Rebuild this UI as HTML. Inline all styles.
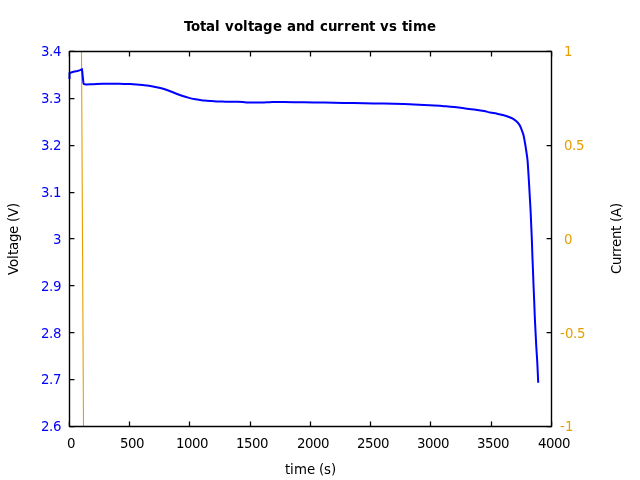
<!DOCTYPE html>
<html lang="en">
<head>
<meta charset="utf-8">
<title>Total voltage and current vs time</title>
<style>
html,body{margin:0;padding:0;background:#fff;}
body{width:640px;height:480px;overflow:hidden;}
svg{display:block;}
text{font-family:"DejaVu Sans","Liberation Sans",sans-serif;font-size:13.33px;white-space:pre;}
.t{font-weight:bold;fill:#000;}
.b{fill:#0000ff;}
.o{fill:#e69f00;}
.k{fill:#000;}
</style>
</head>
<body>
<svg width="640" height="480" viewBox="0 0 640 480">
<rect width="640" height="480" fill="#ffffff"/>
<text class="t" x="184 191 200 206 215 220 225 234 243 248 254 263 273 282 287 296 305 315 320 328 337 344 351 360 369 375 380 389 397 402 408 413 427" y="31">Total voltage and current vs time</text>
<path d="M69.5,51.5 h0.01 M81.5,51.5 L83.5,426.5" stroke="#e69f00" stroke-width="1.1" fill="none"/>
<circle cx="69.3" cy="51.3" r="0.6" fill="#e69f00"/>
<path d="M69.50,78.90 L69.55,73.00 L73.50,71.75 L77.30,70.95 L79.50,70.35 L81.00,69.60 L82.00,69.30 L83.35,82.40 C83.48,82.88 83.48,83.49 83.75,83.85 C83.96,84.12 84.43,84.23 84.80,84.30 C85.35,84.41 85.93,84.40 86.50,84.40 C87.75,84.40 89.00,84.35 90.25,84.30 C92.33,84.22 94.42,84.08 96.50,84.00 C98.58,83.92 100.67,83.84 102.75,83.80 C104.83,83.76 106.92,83.76 109.00,83.75 C111.08,83.74 113.17,83.73 115.25,83.75 C118.17,83.78 121.08,83.85 124.00,83.90 C126.08,83.93 128.17,83.92 130.25,84.00 C132.34,84.08 134.42,84.23 136.50,84.40 C138.59,84.57 140.67,84.78 142.75,85.00 C144.84,85.23 146.93,85.43 149.00,85.75 C151.09,86.07 153.17,86.48 155.25,86.90 C156.92,87.23 158.59,87.59 160.25,88.00 C161.51,88.31 162.77,88.65 164.00,89.05 C166.10,89.73 168.18,90.47 170.25,91.25 C172.35,92.04 174.40,92.95 176.50,93.75 C178.57,94.54 180.65,95.30 182.75,96.00 C184.82,96.69 186.89,97.35 189.00,97.90 C191.06,98.44 193.15,98.86 195.25,99.25 C197.32,99.63 199.41,99.90 201.50,100.20 C202.33,100.32 203.16,100.42 204.00,100.50 C206.08,100.69 208.17,100.85 210.25,101.00 C212.33,101.15 214.41,101.31 216.50,101.40 C218.58,101.49 220.67,101.49 222.75,101.55 C224.83,101.61 226.92,101.71 229.00,101.75 C231.08,101.79 233.17,101.78 235.25,101.80 C237.67,101.83 240.09,101.76 242.50,101.90 C244.17,102.00 245.83,102.42 247.50,102.50 C250.49,102.64 253.50,102.55 256.50,102.55 C259.00,102.55 261.50,102.55 264.00,102.50 C265.33,102.47 266.67,102.37 268.00,102.30 C269.50,102.22 271.00,102.09 272.50,102.05 C274.33,102.00 276.17,102.04 278.00,102.05 C280.00,102.06 282.00,102.08 284.00,102.10 C290.67,102.18 297.33,102.27 304.00,102.35 C310.67,102.43 317.33,102.51 324.00,102.60 C330.67,102.69 337.33,102.80 344.00,102.90 C350.67,103.00 357.33,103.08 364.00,103.20 C370.67,103.32 377.33,103.46 384.00,103.60 C390.67,103.74 397.33,103.87 404.00,104.05 C407.33,104.14 410.67,104.26 414.00,104.40 C417.33,104.54 420.67,104.73 424.00,104.90 C427.33,105.08 430.67,105.24 434.00,105.45 C437.33,105.66 440.67,105.89 444.00,106.15 C447.34,106.41 450.67,106.64 454.00,107.00 C457.34,107.36 460.67,107.87 464.00,108.30 C467.33,108.73 470.67,109.13 474.00,109.60 C477.34,110.07 480.68,110.51 484.00,111.10 C486.10,111.47 488.16,112.08 490.25,112.50 C492.32,112.91 494.43,113.19 496.50,113.60 C498.59,114.02 500.69,114.43 502.75,115.00 C504.86,115.58 506.94,116.31 509.00,117.05 C510.27,117.51 511.58,117.94 512.75,118.60 C514.04,119.33 515.28,120.22 516.40,121.20 C517.30,121.99 518.10,122.93 518.80,123.90 C519.45,124.80 519.98,125.80 520.45,126.80 C521.03,128.03 521.48,129.32 521.95,130.60 C522.44,131.92 522.95,133.25 523.35,134.60 C523.63,135.55 523.82,136.53 524.00,137.50 C524.53,140.33 525.04,143.16 525.50,146.00 C526.04,149.33 526.53,152.66 527.00,156.00 C527.23,157.66 527.44,159.33 527.60,161.00 C527.76,162.66 527.84,164.33 527.95,166.00 C528.27,171.00 528.60,176.00 528.90,181.00 C529.20,186.00 529.47,191.00 529.75,196.00 C530.03,201.00 530.35,206.00 530.60,211.00 C530.85,216.00 531.03,221.00 531.25,226.00 C531.47,231.00 531.71,236.00 531.90,241.00 C532.09,246.00 532.22,251.00 532.40,256.00 C532.58,261.00 532.81,266.00 533.00,271.00 C533.19,276.00 533.35,281.00 533.55,286.00 C533.75,291.00 534.00,296.00 534.20,301.00 C534.40,306.00 534.53,311.00 534.75,316.00 C534.97,321.00 535.25,326.00 535.50,331.00 C535.75,336.00 535.97,341.00 536.25,346.00 C536.53,351.00 536.91,356.00 537.20,361.00 C537.39,364.33 537.55,367.67 537.70,371.00 C537.88,374.93 538.03,378.87 538.20,382.80" stroke="#0000ff" stroke-width="2.0" fill="none" stroke-linejoin="miter" stroke-linecap="butt"/>
<path d="M69.4,426.5 v-4.9 M69.4,51.5 v4.9 M129.5,426.5 v-4.9 M129.5,51.5 v4.9 M189.5,426.5 v-4.9 M189.5,51.5 v4.9 M250.5,426.5 v-4.9 M250.5,51.5 v4.9 M310.5,426.5 v-4.9 M310.5,51.5 v4.9 M370.5,426.5 v-4.9 M370.5,51.5 v4.9 M430.5,426.5 v-4.9 M430.5,51.5 v4.9 M491.5,426.5 v-4.9 M491.5,51.5 v4.9 M551.6,426.5 v-4.9 M551.6,51.5 v4.9 M69.5,51.4 h4.9 M69.5,98.5 h4.9 M69.5,145.5 h4.9 M69.5,192.5 h4.9 M69.5,238.5 h4.9 M69.5,285.5 h4.9 M69.5,332.5 h4.9 M69.5,379.5 h4.9 M69.5,426.6 h4.9 M551.5,51.4 h-4.9 M551.5,145.5 h-4.9 M551.5,238.5 h-4.9 M551.5,332.5 h-4.9 M551.5,426.6 h-4.9" stroke="#000" stroke-width="1.25" fill="none" stroke-linecap="butt"/>
<rect x="69.5" y="51.5" width="482.0" height="375.0" fill="none" stroke="#000" stroke-width="1.4" stroke-linejoin="round"/>
<text class="b" x="41 49 53" y="56">3.4</text>
<text class="b" x="41 49 53" y="103">3.3</text>
<text class="b" x="41 49 53" y="150">3.2</text>
<text class="b" x="41 49 53" y="197">3.1</text>
<text class="b" x="53" y="244">3</text>
<text class="b" x="41 49 53" y="291">2.9</text>
<text class="b" x="41 49 53" y="338">2.8</text>
<text class="b" x="41 49 53" y="384">2.7</text>
<text class="b" x="41 49 53" y="431">2.6</text>
<text class="o" x="564" y="56">1</text>
<text class="o" x="564 572 576" y="150">0.5</text>
<text class="o" x="564" y="244">0</text>
<text class="o" x="560 565 573 577" y="338">-0.5</text>
<text class="o" x="560 565" y="431">-1</text>
<text class="k" x="67" y="448">0</text>
<text class="k" x="120 128 136" y="448">500</text>
<text class="k" x="176 184 192 200" y="448">1000</text>
<text class="k" x="236 244 252 260" y="448">1500</text>
<text class="k" x="297 305 313 321" y="448">2000</text>
<text class="k" x="357 365 373 381" y="448">2500</text>
<text class="k" x="417 425 433 441" y="448">3000</text>
<text class="k" x="477 485 493 501" y="448">3500</text>
<text class="k" x="538 546 554 562" y="448">4000</text>
<text class="k" x="285 290 294 307 315 319 324 331" y="474">time (s)</text>
<text class="k" transform="translate(18,239) rotate(-90)" x="-36 -28 -20 -16 -11 -3 5 13 17 22 31" y="0">Voltage (V)</text>
<text class="k" transform="translate(621,238.5) rotate(-90)" x="-35.5 -26.5 -18.5 -13.5 -8.5 -0.5 7.5 12.5 16.5 21.5 30.5" y="0">Current (A)</text>
</svg>
</body>
</html>
